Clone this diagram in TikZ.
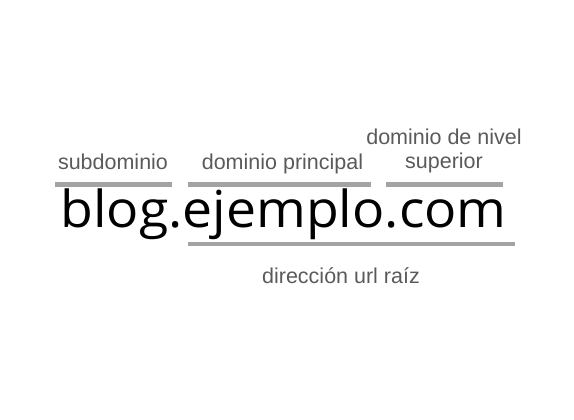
\documentclass[tikz,border=0pt]{standalone}
\usepackage{fontspec}
\setmainfont{Liberation Sans}
\newfontfamily\mainurl{Open Sans}
\definecolor{lbl}{HTML}{5A5A5A}
\definecolor{barc}{HTML}{A3A3A3}
\begin{document}
\begin{tikzpicture}[x=1pt,y=-1pt,
  lab/.style={font=\fontsize{21.5}{24}\selectfont, text=lbl, inner sep=0pt, anchor=base},
  bar/.style={draw=barc, line width=4.5pt}]
\useasboundingbox (0,0) rectangle (574,420);
\node[lab] (sub) at (113,169) {subdominio};
\node[lab] (dom) at (282.5,169) {dominio principal};
\node[lab] (tld1) at (444,144.5) {dominio de nivel};
\node[lab] (tld2) at (444,168) {superior};
\node[lab] (raiz) at (341,283) {dirección url raíz};
\node[font=\mainurl\fontsize{51}{56}\selectfont, inner sep=0pt, anchor=base] (url) at (283.5,227.5) {\scalebox{1.05}[1]{blog.ejemplo.com}};
\coordinate (b1a) at (55,184.5); \coordinate (b1b) at (172,184.5);
\coordinate (b2a) at (188,184.5); \coordinate (b2b) at (371,184.5);
\coordinate (b3a) at (386,184.5); \coordinate (b3b) at (503,184.5);
\coordinate (b4a) at (188,244); \coordinate (b4b) at (515,244);
\draw[bar] (b1a) -- (b1b);
\draw[bar] (b2a) -- (b2b);
\draw[bar] (b3a) -- (b3b);
\draw[bar] (b4a) -- (b4b);
\end{tikzpicture}
\end{document}
